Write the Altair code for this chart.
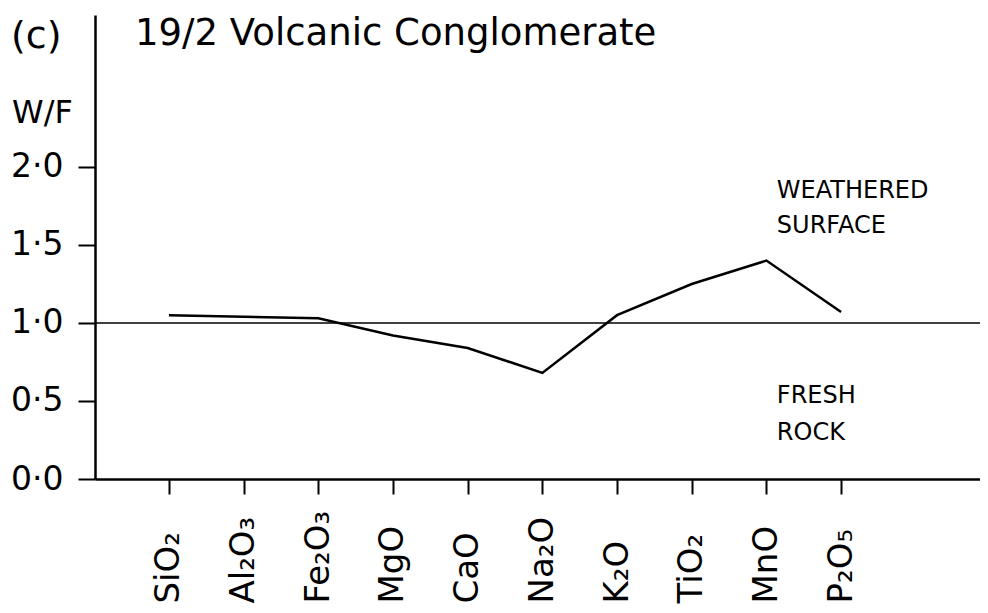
import json
import altair as alt
import pandas as pd

# ---- data ----
oxides = ["SiO₂", "Al₂O₃", "Fe₂O₃", "MgO", "CaO", "Na₂O", "K₂O", "TiO₂", "MnO", "P₂O₅"]
wf_ratio = [1.05, 1.04, 1.03, 0.92, 0.84, 0.68, 1.05, 1.25, 1.40, 1.07]
y_ticks = [0.0, 0.5, 1.0, 1.5, 2.0]
baseline_value = 1.0
annot_text = ["WEATHERED", "SURFACE", "FRESH", "ROCK"]

df = pd.DataFrame({"idx": list(range(len(oxides))), "oxide": oxides, "ratio": wf_ratio})

# annotation placement (data coordinates)
annot_x = [8.14, 8.14, 8.14, 8.14]
annot_y = [1.80, 1.577, 0.487, 0.25]
annot = pd.DataFrame({"t": annot_text, "x": annot_x, "y": annot_y})

FONT = "DejaVu Sans"
W, H = 885, 464
xdom = [-0.99, 10.86]
ydom = [0, 2.974]

label_expr = json.dumps(oxides) + "[datum.value]"

xs = alt.Scale(domain=xdom, nice=False, zero=False)
ys = alt.Scale(domain=ydom, nice=False, zero=False)

base = alt.Chart(df)

line = base.mark_line(color="black", strokeWidth=2.5, clip=False).encode(
    x=alt.X("idx:Q", scale=xs,
            axis=alt.Axis(values=list(range(len(oxides))), labelExpr=label_expr,
                          title=None, grid=False, tickSize=15, tickWidth=2,
                          labelAngle=270, labelAlign="left", labelBaseline="middle",
                          labelPadding=109, labelFontSize=34, labelFont=FONT,
                          labelColor="black", domainColor="black", domainWidth=2.5,
                          tickColor="black", labelOverlap=False, labelFlush=False,
                          labelBound=False)),
    y=alt.Y("ratio:Q", scale=ys,
            axis=alt.Axis(values=y_ticks,
                          labelExpr="replace(format(datum.value, '.1f'), '.', '·')",
                          title=None, grid=False, tickSize=17, tickWidth=2,
                          labelPadding=15, labelFontSize=33, labelFont=FONT,
                          labelColor="black", domainColor="black", domainWidth=2.5,
                          tickColor="black", labelOverlap=False, labelFlush=False,
                          labelBound=False)),
)

ref = alt.Chart(pd.DataFrame({"v": [baseline_value]})).mark_rule(
    color="black", strokeWidth=1.5).encode(y=alt.Y("v:Q", scale=ys))

notes = alt.Chart(annot).mark_text(
    align="left", baseline="alphabetic", font=FONT, fontSize=24, color="black"
).encode(x=alt.X("x:Q", scale=xs), y=alt.Y("y:Q", scale=ys), text="t:N")

title_txt = alt.Chart(pd.DataFrame({"t": ["19/2 Volcanic Conglomerate"]})).mark_text(
    align="left", baseline="alphabetic", font=FONT, fontSize=37, color="black"
).encode(x=alt.value(40), y=alt.value(30), text="t:N")

panel_txt = alt.Chart(pd.DataFrame({"t": ["(c)"]})).mark_text(
    align="left", baseline="alphabetic", font=FONT, fontSize=38, color="black"
).encode(x=alt.value(-84), y=alt.value(33), text="t:N")

wf_txt = alt.Chart(pd.DataFrame({"t": ["W/F"]})).mark_text(
    align="left", baseline="alphabetic", font=FONT, fontSize=32, color="black"
).encode(x=alt.value(-83), y=alt.value(108), text="t:N")

chart = alt.layer(ref, line, notes, title_txt, panel_txt, wf_txt).properties(
    width=W, height=H,
    autosize=alt.AutoSizeParams(type="none"),
    padding={"left": 87, "top": 7, "right": 0, "bottom": 131},
    background="white",
).configure_view(stroke=None)

chart.save("out.html", embed_options={"renderer": "svg", "actions": False})
